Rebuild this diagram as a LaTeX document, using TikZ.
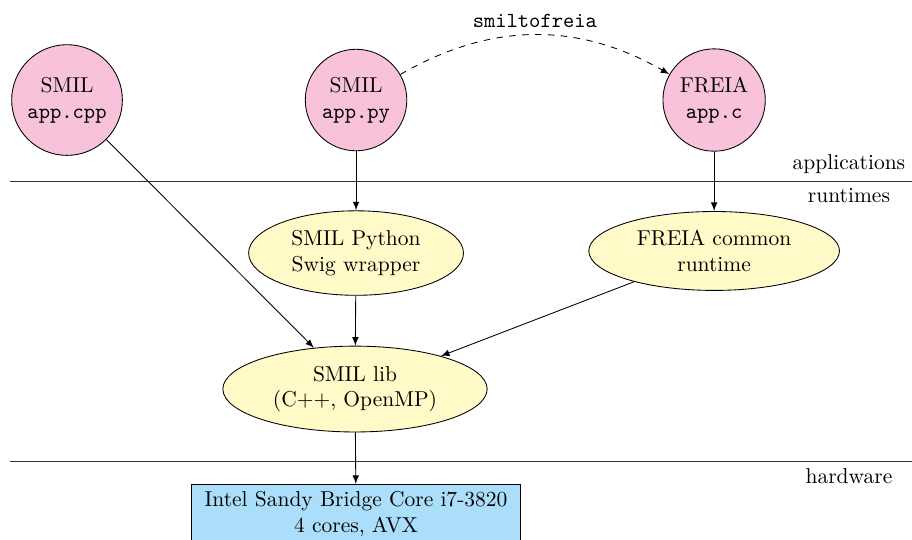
\documentclass[tikz,border=0pt]{standalone}
\usepackage{amsmath}
\usepackage{tikz}
\usepackage{xcolor}
\usetikzlibrary{arrows,shapes.geometric}
\definecolor{apppink}{RGB}{247,194,218}
\definecolor{rtyellow}{RGB}{255,250,200}
\definecolor{hwblue}{RGB}{170,222,250}
\begin{document}
\begin{tikzpicture}[>=latex]%
  \tikzstyle{appn}=[circle,draw,fill=apppink,align=center]
  \tikzstyle{rtn}=[ellipse,draw,fill=rtyellow,align=center,inner xsep=5.3pt]
  \tikzstyle{hwn}=[rectangle,draw,fill=hwblue,align=center,inner xsep=6pt]
  \tikzstyle{sep}=[draw,black!80]
  \useasboundingbox (0,0) rectangle (14.9,-8.82);
  % layers
  \coordinate(l1a) at (0.163,-2.958);
  \coordinate(l1b) at (14.9,-2.958);
  \coordinate(l2a) at (0.163,-7.533);
  \coordinate(l2b) at (14.9,-7.533);
  \draw[sep] (l1a) -- (l1b);
  \draw[sep] (l2a) -- (l2b);
  \node(lapp)[anchor=south] at (13.87,-2.958) {applications};
  \node(lrt)[anchor=north] at (13.87,-2.958) {runtimes};
  \node(lhw)[anchor=north] at (13.87,-7.533) {hardware};
  % applications
  \node(cpp)[appn] at (1.095,-1.634) {SMIL\\\texttt{app.cpp}};
  \node(py)[appn] at (5.817,-1.634) {SMIL\\\texttt{app.py}};
  \node(c)[appn] at (11.667,-1.634) {FREIA\\\texttt{app.c}};
  % runtimes
  \node(swig)[rtn] at (5.817,-4.134) {SMIL Python\\Swig wrapper};
  \node(frt)[rtn] at (11.667,-4.10) {FREIA common\\runtime};
  \node(lib)[rtn] at (5.80,-6.356) {SMIL lib\\(C++, OpenMP)};
  % hardware
  \node(hw)[hwn,anchor=north] at (5.817,-7.908)
    {Intel Sandy Bridge Core i7-3820\\4 cores, AVX};
  \draw[->,dashed] (py) to[bend left=30]
    node[above]{\texttt{smiltofreia}} (c);
  \draw[->] (cpp) -- (lib);
  \draw[->] (py) -- (swig);
  \draw[->] (swig) -- (lib);
  \draw[->] (c) -- (frt);
  \draw[->] (frt) -- (lib);
  \draw[->] (lib) -- (hw);
\end{tikzpicture}
\end{document}
